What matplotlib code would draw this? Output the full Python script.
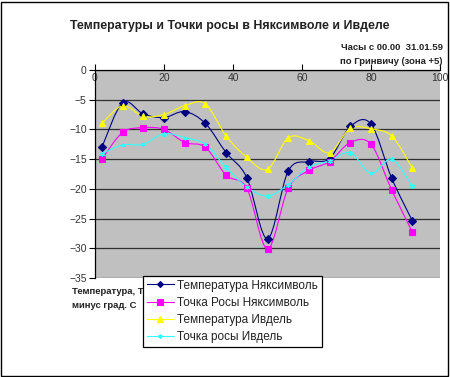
import numpy as np
import matplotlib.pyplot as plt
from matplotlib.path import Path
from matplotlib.patches import PathPatch, Rectangle
from matplotlib.lines import Line2D

plt.rcParams['font.family'] = ['Liberation Sans', 'DejaVu Sans']

# hours from 00.00 31.01.59 (GMT)
hours = [2, 8, 14, 20, 26, 32, 38, 44, 50, 56, 62, 68, 74, 80, 86, 92]

temp_nyaks = [-13.0, -5.5, -7.4, -8.0, -7.0, -9.0, -13.9, -18.1,
              -28.4, -17.0, -15.4, -14.9, -9.5, -9.1, -18.2, -25.4]
dew_nyaks = [-15.0, -10.5, -9.7, -10.0, -12.2, -13.0, -17.7, -19.9,
             -30.1, -19.9, -16.9, -15.4, -12.2, -12.5, -20.2, -27.3]
temp_ivdel = [-9.0, -6.0, -7.8, -7.5, -6.0, -5.7, -11.1, -14.7,
              -16.7, -11.4, -11.9, -13.9, -9.8, -9.9, -11.1, -16.5]
dew_ivdel = [-14.1, -12.6, -12.5, -10.7, -11.4, -12.5, -16.4, -19.7,
             -21.2, -19.3, -16.3, -15.3, -13.9, -17.4, -15.0, -19.6]

series = [
    ('Температура Няксимволь', temp_nyaks, '#000080', 'D', 3.8),
    ('Точка Росы Няксимволь', dew_nyaks, '#FF00FF', 's', 4.6),
    ('Температура Ивдель', temp_ivdel, '#FFFF00', '^', 5),
    ('Точка росы Ивдель', dew_ivdel, '#33FFFF', (6, 2, 0), 3.5),
]


def smooth_path(x, y):
    # excel-style smoothed line: catmull-rom segments as cubic beziers
    p = np.column_stack([x, y]).astype(float)
    n = len(p)
    verts = [p[0]]
    codes = [Path.MOVETO]
    for i in range(n - 1):
        p0 = p[i - 1] if i > 0 else p[i]
        p3 = p[i + 2] if i + 2 < n else p[i + 1]
        c1 = p[i] + (p[i + 1] - p0) / 6
        c2 = p[i + 1] - (p3 - p[i]) / 6
        verts += [c1, c2, p[i + 1]]
        codes += [Path.CURVE4] * 3
    return Path(verts, codes)


fig = plt.figure(figsize=(4.5, 3.77), dpi=100)
ax = fig.add_axes([95 / 450, 1 - 278 / 377, 345 / 450, 208 / 377])
ax.set_facecolor('#C0C0C0')

handles = []
for label, vals, col, mk, ms in series:
    ax.add_patch(PathPatch(smooth_path(hours, vals), fill=False,
                           edgecolor=col, lw=0.8, zorder=3))
    ax.plot(hours, vals, ls='none', marker=mk, color=col, ms=ms,
            mec=col, mew=0.8, zorder=4)
    handles.append(Line2D([], [], color=col, lw=0.8, marker=mk, ms=ms * 0.8,
                          mew=0.8, label=label))

ax.set_xlim(0, 100)
ax.set_ylim(-35, 0)
ax.set_yticks(np.arange(-35, 1, 5))
ax.set_xticks([0, 20, 40, 60, 80, 100])
ax.yaxis.grid(True, color='#303030', lw=0.9)
ax.set_axisbelow(True)

ax.spines['bottom'].set_position(('data', 0))
ax.spines['top'].set_visible(False)
ax.spines['right'].set_visible(False)
for s in ('bottom', 'left'):
    ax.spines[s].set_linewidth(0.9)
ax.tick_params(axis='x', direction='in', length=4, pad=2, labelsize=7.5,
               colors='#000000', labelcolor='#333333')
ax.tick_params(axis='y', direction='out', length=4, pad=2, labelsize=7.5,
               labelcolor='#333333')

fig.text(230 / 450, 1 - 26 / 377, 'Температуры и Точки росы в Няксимволе и Ивделе',
         ha='center', va='center', fontsize=8.9, fontweight='bold', color='#222222')
fig.text(443 / 450, 1 - 48 / 377, 'Часы с 00.00  31.01.59',
         ha='right', va='center', fontsize=6.8, fontweight='bold', color='#222222')
fig.text(443 / 450, 1 - 62 / 377, 'по Гринвичу (зона +5)',
         ha='right', va='center', fontsize=6.8, fontweight='bold', color='#222222')
fig.text(72 / 450, 1 - 292 / 377, 'Температура, Точка росы',
         ha='left', va='center', fontsize=6.8, fontweight='bold', color='#222222')
fig.text(72 / 450, 1 - 306 / 377, 'минус град. С',
         ha='left', va='center', fontsize=6.8, fontweight='bold', color='#222222')

leg = fig.legend(handles=handles, loc='upper left',
                 bbox_to_anchor=(143 / 450, 1 - 276 / 377),
                 fontsize=8.5, frameon=True, fancybox=False, framealpha=1,
                 edgecolor='#000000', borderpad=0.3, labelspacing=0.45,
                 handlelength=2.3, handletextpad=0.3, borderaxespad=0)
leg.get_frame().set_linewidth(0.9)
leg.set_zorder(10)
for t in leg.get_texts():
    t.set_color('#222222')

fig.add_artist(Rectangle((1 / 450, 1 / 377), 447 / 450, 374 / 377,
                         transform=fig.transFigure, fill=False,
                         edgecolor='#000000', lw=1))

fig.savefig('out.png', dpi=100)
